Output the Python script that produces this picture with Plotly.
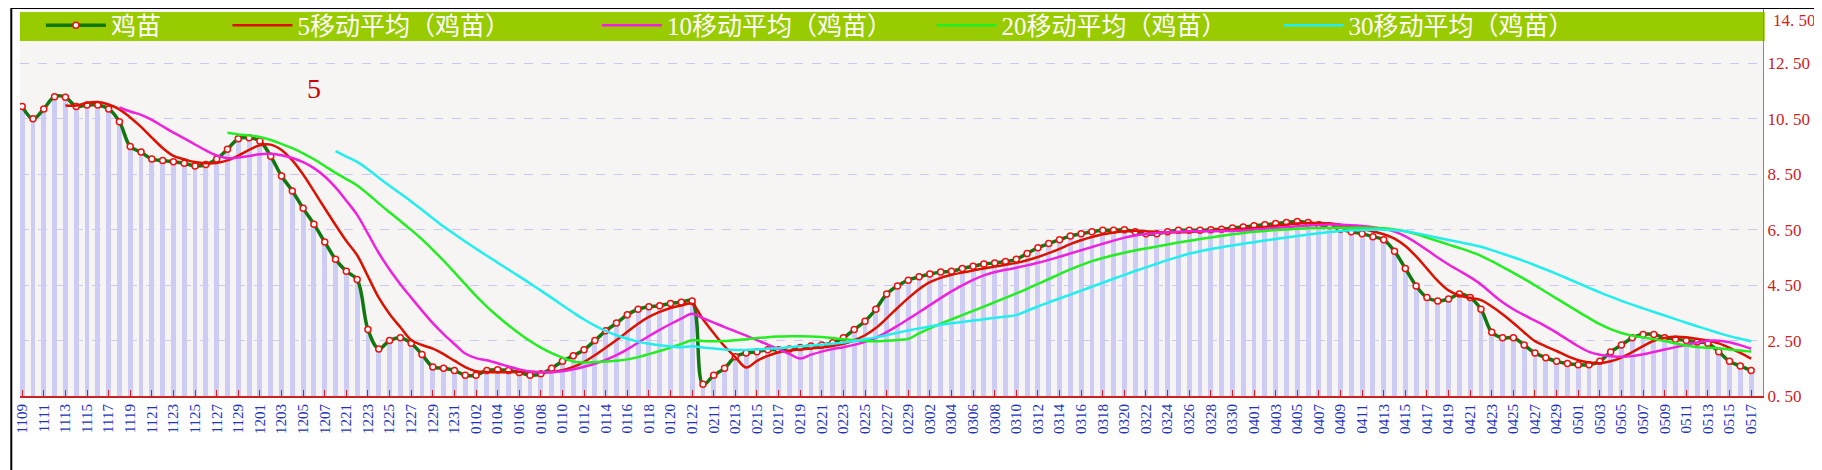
import plotly.graph_objects as go
import pandas as pd

labels = ["1109","1111","1113","1115","1117","1119","1121","1123","1125","1127","1129",
          "1201","1203","1205","1207","1221","1223","1225","1227","1229","1231",
          "0102","0104","0106","0108","0110","0112","0114","0116","0118","0120","0122",
          "0211","0213","0215","0217","0219","0221","0223","0225","0227","0229",
          "0302","0304","0306","0308","0310","0312","0314","0316","0318","0320","0322","0324","0326","0328","0330",
          "0401","0403","0405","0407","0409","0411","0413","0415","0417","0419","0421","0423","0425","0427","0429",
          "0501","0503","0505","0507","0509","0511","0513","0515","0517"]
between = ["1110","1112","1114","1116","1118","1120","1122","1124","1126","1128","1130",
           "1202","1204","1206","1208","1222","1224","1226","1228","1230","0101",
           "0103","0105","0107","0109","0111","0113","0115","0117","0119","0121","0123",
           "0212","0214","0216","0218","0220","0222","0224","0226","0228","0301",
           "0303","0305","0307","0309","0311","0313","0315","0317","0319","0321","0323","0325","0327","0329","0331",
           "0402","0404","0406","0408","0410","0412","0414","0416","0418","0420","0422","0424","0426","0428","0430",
           "0502","0504","0506","0508","0510","0512","0514","0516"]
price = [10.95,10.5, 10.86,11.3, 11.28,10.95, 11.0,11.0, 10.86,10.4, 9.5,9.3, 9.05,9.0, 8.95,8.9,
         8.8,8.85, 9.05,9.4, 9.78,9.82, 9.7,9.15, 8.44,7.9, 7.27,6.7, 6.06,5.43, 5.0,4.7,
         2.9,2.2, 2.5,2.6, 2.4,2.0, 1.55,1.5, 1.42,1.25, 1.25,1.42, 1.45,1.42, 1.35,1.25,
         1.3,1.5, 1.75,1.95, 2.17,2.5, 2.85,3.13, 3.43,3.63, 3.72,3.76, 3.84,3.88, 3.93,0.92,
         1.25,1.5, 1.92,2.05, 2.1,2.17, 2.17,2.2, 2.25,2.3, 2.34,2.42, 2.6,2.9, 3.2,3.63,
         4.18,4.47, 4.68,4.8, 4.9,4.97, 5.0,5.1, 5.18,5.26, 5.3,5.35, 5.43,5.64, 5.85,6.0,
         6.14,6.27, 6.35,6.43, 6.48,6.48, 6.5,6.43, 6.35,6.35, 6.43,6.48, 6.48,6.48, 6.5,6.52,
         6.56,6.6, 6.64,6.68, 6.72,6.76, 6.8,6.76, 6.68,6.64, 6.52,6.43, 6.35,6.25, 6.14,5.72,
         5.1,4.47, 4.05,3.93, 4.0,4.18, 4.05,3.63, 2.8,2.6, 2.6,2.34, 2.05,1.88, 1.75,1.67,
         1.63,1.63, 1.75,2.09, 2.34,2.6, 2.72,2.72, 2.6,2.55, 2.5,2.45, 2.4,2.1, 1.75,1.58, 1.42]
ma_windows = [5, 10, 20, 30]
ma_colors = ["#dd1100", "#ee22dd", "#22ee22", "#22eeee"]
series_name = "鸡苗"

dates = []
for i, l in enumerate(labels):
    dates.append(l)
    if i < len(between):
        dates.append(between[i])
xs = list(range(len(dates)))
s = pd.Series(price)

legend_x = [0.012, 0.119, 0.331, 0.523, 0.722]
legend_keys = ["legend", "legend2", "legend3", "legend4", "legend5"]

fig = go.Figure()
fig.add_trace(go.Bar(x=xs, y=[p - 0.5 for p in price], base=0.5, width=0.45,
                     marker=dict(color="#ccccf4", line=dict(width=0)), showlegend=False, hoverinfo="skip"))
fig.add_trace(go.Scatter(x=xs, y=price, name=series_name, mode="lines+markers", legend="legend",
                         line=dict(color="#117711", width=3.5, shape="spline"),
                         marker=dict(symbol="circle", size=6, color="white", line=dict(width=1.5, color="#ee1111"))))
for k, (w, c) in enumerate(zip(ma_windows, ma_colors)):
    fig.add_trace(go.Scatter(x=xs, y=s.rolling(w).mean(), name=f"{w}移动平均（{series_name}）",
                             legend=legend_keys[k + 1],
                             mode="lines", line=dict(color=c, width=2.5, shape="spline")))

leg_common = dict(orientation="h", y=0.955, yanchor="middle", xanchor="left",
                  bgcolor="rgba(0,0,0,0)", itemwidth=60,
                  font=dict(color="white", size=25, family="Liberation Serif, Noto Sans CJK SC"))
legends = {key: dict(leg_common, x=x) for key, x in zip(legend_keys, legend_x)}

yt = [0.5, 2.5, 4.5, 6.5, 8.5, 10.5, 12.5, 14.5]
fig.update_layout(
    width=1822, height=470, paper_bgcolor="white", plot_bgcolor="#f7f5f3",
    margin=dict(l=12, r=67, t=0, b=82, autoexpand=False), bargap=0,
    font=dict(family="Liberation Serif, Noto Sans CJK SC"),
    **legends,
    xaxis=dict(range=[-0.2, 161.1], tickvals=xs[::2], ticktext=labels, tickangle=-90,
               tickfont=dict(color="#2233bb", size=15, family="Liberation Serif"),
               showgrid=False, showline=True, linecolor="#cc2222", linewidth=2, automargin=False,
               ticks="inside", tickcolor="#cc2222", ticklen=6, zeroline=False),
    yaxis=dict(range=[0.5, 14.5], side="right", tickvals=yt[:-1], automargin=False,
               ticktext=[f"{v:.2f}".replace(".", ". ") for v in yt[:-1]],
               tickfont=dict(color="#cc2222", size=17, family="Liberation Serif"),
               gridcolor="#c8c8f0", griddash="dash", showline=True, linecolor="#888888",
               zeroline=False),
    shapes=[dict(type="rect", xref="paper", yref="paper", x0=0, x1=1.001, y0=0.915, y1=0.99,
                 fillcolor="#99cc00", line=dict(width=0), layer="below"),
            dict(type="rect", xref="paper", yref="paper", x0=-0.005, x1=1.036, y0=-0.205, y1=1.0,
                 line=dict(color="black", width=2), fillcolor="rgba(0,0,0,0)")],
    annotations=[dict(x=27, y=11.6, xref="x", yref="y", text="5", showarrow=False,
                      font=dict(color="#cc0000", size=28, family="Liberation Serif")),
                 dict(x=1.0, y=1.0, xref="paper", yref="paper", text=f"{yt[-1]:.2f}".replace(".", ". "),
                      showarrow=False, xanchor="left", yanchor="top", xshift=8, yshift=-1,
                      font=dict(color="#cc2222", size=17, family="Liberation Serif"))],
)
fig.write_html("out.html")
